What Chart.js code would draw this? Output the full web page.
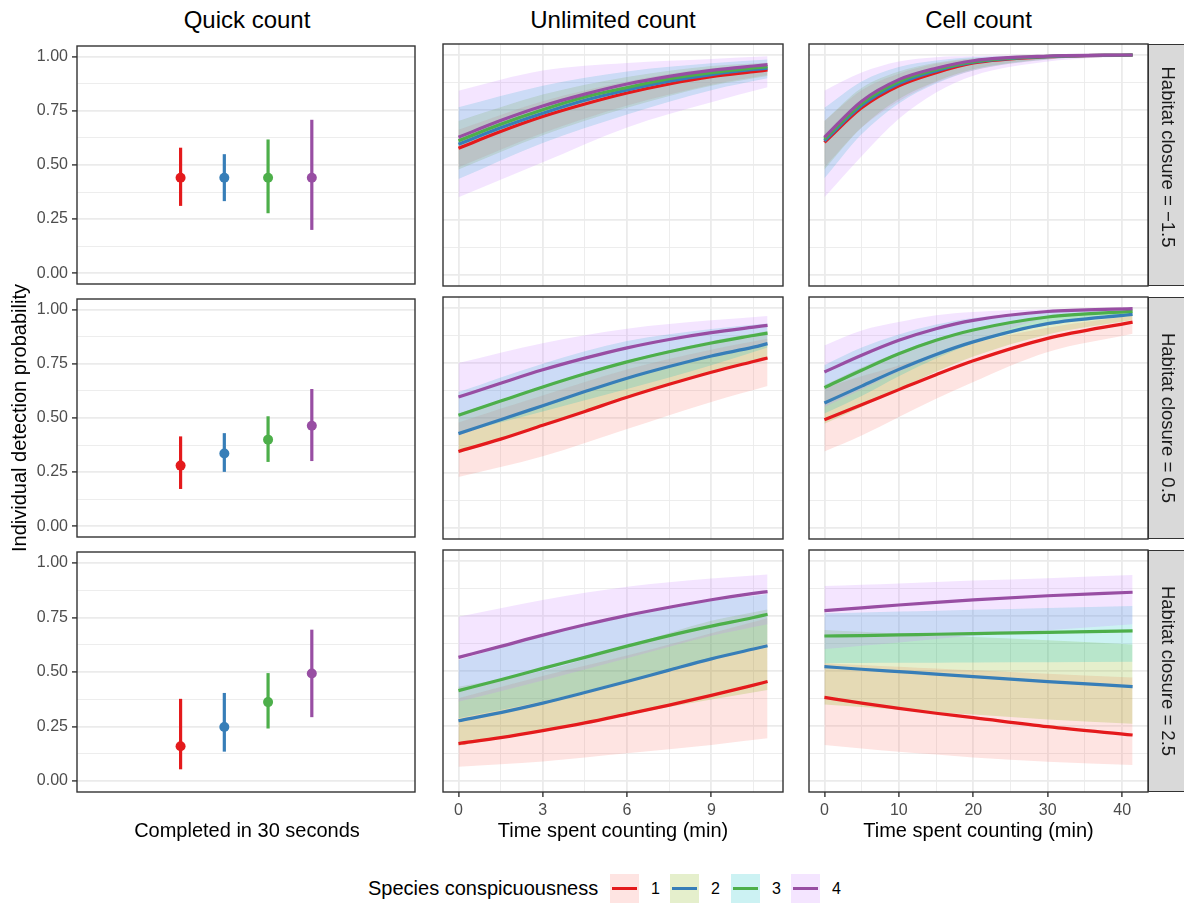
<!DOCTYPE html>
<html>
<head>
<meta charset="utf-8">
<script src="https://cdn.jsdelivr.net/npm/chart.js@4.4.0/dist/chart.umd.min.js"></script>
<style>
  body { margin: 0; width: 1184px; height: 904px; background: #fff; position: relative; overflow: hidden;
         font-family: 'Liberation Sans', Arial, Helvetica, sans-serif; color: #000; }
  canvas { position: absolute; }
  .txt { position: absolute; white-space: nowrap; }
  .strip { position: absolute; background: #D9D9D9; border: 1.4px solid #333; box-sizing: border-box; }
  .key { position: absolute; width: 29px; height: 29px; }
  .key div { position: absolute; left: 2px; top: 13px; width: 25px; height: 3px; }
</style>
</head>
<body>
<script>
// facets and series
const columnTitles = ['Quick count', 'Unlimited count', 'Cell count'];
const xTitles = ['Completed in 30 seconds', 'Time spent counting (min)', 'Time spent counting (min)'];
const closureLabels = ['Habitat closure = \u22121.5', 'Habitat closure = 0.5', 'Habitat closure = 2.5'];
const species = ['1', '2', '3', '4'];

// tick values
const yMajor = [0, 0.25, 0.5, 0.75, 1];
const yMinor = [0.125, 0.375, 0.625, 0.875];
const unlimMajor = [0, 3, 6, 9];
const unlimMinor = [1.5, 4.5, 7.5, 10.5];
const cellMajor = [0, 10, 20, 30, 40];
const cellMinor = [5, 15, 25, 35];

// quick count: dodged position per species, estimate and interval, one row per habitat closure
const quickPos = [1, 2, 3, 4];
const quickMid = [
  [0.441, 0.441, 0.441, 0.441],
  [0.280, 0.336, 0.400, 0.464],
  [0.160, 0.248, 0.362, 0.493]
];
const quickLo = [
  [0.311, 0.333, 0.277, 0.200],
  [0.172, 0.251, 0.297, 0.301],
  [0.054, 0.135, 0.241, 0.293]
];
const quickHi = [
  [0.580, 0.550, 0.618, 0.709],
  [0.415, 0.430, 0.508, 0.634],
  [0.377, 0.404, 0.495, 0.694]
];

// unlimited count lines: [row][species][time]
const unlimTime = [0, 1.5, 3, 4.5, 6, 7.5, 9, 10.5, 11];
const unlimMid = [
  [[0.576, 0.652, 0.720, 0.777, 0.827, 0.868, 0.901, 0.924, 0.932],
   [0.594, 0.669, 0.735, 0.794, 0.841, 0.881, 0.911, 0.934, 0.940],
   [0.610, 0.685, 0.751, 0.809, 0.852, 0.892, 0.920, 0.941, 0.947],
   [0.626, 0.702, 0.768, 0.822, 0.868, 0.903, 0.930, 0.950, 0.956]],
  [[0.348, 0.404, 0.467, 0.530, 0.594, 0.653, 0.708, 0.757, 0.773],
   [0.429, 0.492, 0.556, 0.620, 0.681, 0.734, 0.782, 0.822, 0.838],
   [0.512, 0.577, 0.641, 0.701, 0.755, 0.801, 0.841, 0.875, 0.886],
   [0.595, 0.658, 0.719, 0.772, 0.819, 0.857, 0.888, 0.913, 0.921]],
  [[0.170, 0.197, 0.229, 0.264, 0.304, 0.345, 0.389, 0.436, 0.452],
   [0.274, 0.311, 0.354, 0.402, 0.452, 0.504, 0.555, 0.600, 0.615],
   [0.411, 0.460, 0.512, 0.562, 0.613, 0.661, 0.704, 0.743, 0.758],
   [0.562, 0.612, 0.663, 0.710, 0.753, 0.790, 0.824, 0.853, 0.861]]
];
// unlimited count bands: [row][species][time]
const unlimBandTime = [0, 3, 6, 9, 11];
const unlimLo = [
  [[0.490, 0.645, 0.770, 0.865, 0.910], [0.480, 0.635, 0.760, 0.860, 0.905], [0.436, 0.600, 0.730, 0.840, 0.894], [0.353, 0.512, 0.671, 0.785, 0.853]],
  [[0.232, 0.326, 0.450, 0.573, 0.645], [0.340, 0.462, 0.590, 0.710, 0.770], [0.430, 0.530, 0.632, 0.740, 0.820], [0.420, 0.555, 0.677, 0.787, 0.835]],
  [[0.065, 0.089, 0.126, 0.164, 0.194], [0.160, 0.227, 0.300, 0.370, 0.414], [0.285, 0.362, 0.457, 0.552, 0.625], [0.360, 0.457, 0.558, 0.660, 0.713]]
];
const unlimHi = [
  [[0.660, 0.790, 0.880, 0.940, 0.955], [0.700, 0.820, 0.900, 0.950, 0.965], [0.762, 0.860, 0.925, 0.962, 0.979], [0.838, 0.929, 0.964, 0.982, 0.994]],
  [[0.480, 0.602, 0.720, 0.810, 0.860], [0.520, 0.642, 0.760, 0.850, 0.895], [0.618, 0.747, 0.850, 0.905, 0.930], [0.750, 0.840, 0.906, 0.944, 0.964]],
  [[0.376, 0.477, 0.570, 0.672, 0.740], [0.428, 0.500, 0.613, 0.728, 0.780], [0.550, 0.660, 0.750, 0.818, 0.850], [0.747, 0.823, 0.883, 0.921, 0.939]]
];

// cell count lines and bands: [row][species][time]
const cellTime = [0, 5, 10, 15, 20, 30, 41.4];
const cellMid = [
  [[0.603, 0.760, 0.860, 0.920, 0.964, 0.992, 1.000], [0.610, 0.770, 0.870, 0.928, 0.967, 0.993, 1.000], [0.618, 0.780, 0.879, 0.934, 0.970, 0.994, 1.000], [0.626, 0.790, 0.888, 0.940, 0.974, 0.995, 1.000]],
  [[0.492, 0.560, 0.629, 0.697, 0.760, 0.862, 0.936], [0.568, 0.645, 0.721, 0.789, 0.846, 0.929, 0.971], [0.638, 0.717, 0.792, 0.853, 0.900, 0.959, 0.985], [0.709, 0.785, 0.853, 0.906, 0.944, 0.984, 0.997]],
  [[0.380, 0.354, 0.330, 0.308, 0.288, 0.247, 0.209], [0.520, 0.508, 0.497, 0.486, 0.474, 0.452, 0.429], [0.659, 0.661, 0.664, 0.667, 0.670, 0.676, 0.682], [0.774, 0.787, 0.800, 0.812, 0.823, 0.842, 0.858]]
];
const cellLo = [
  [[0.490, 0.670, 0.790, 0.875, 0.930, 0.980, 0.998], [0.480, 0.670, 0.800, 0.880, 0.935, 0.982, 0.998], [0.440, 0.640, 0.780, 0.870, 0.930, 0.980, 0.998], [0.353, 0.540, 0.710, 0.830, 0.906, 0.970, 0.995]],
  [[0.348, 0.421, 0.505, 0.588, 0.664, 0.800, 0.883], [0.474, 0.550, 0.630, 0.710, 0.780, 0.880, 0.945], [0.520, 0.600, 0.690, 0.770, 0.840, 0.930, 0.968], [0.550, 0.630, 0.710, 0.780, 0.845, 0.955, 0.990]],
  [[0.164, 0.148, 0.133, 0.120, 0.107, 0.088, 0.073], [0.348, 0.336, 0.325, 0.313, 0.302, 0.280, 0.260], [0.535, 0.536, 0.537, 0.538, 0.539, 0.540, 0.542], [0.600, 0.615, 0.630, 0.645, 0.660, 0.685, 0.712]]
];
const cellHi = [
  [[0.700, 0.840, 0.915, 0.960, 0.982, 0.996, 1.000], [0.700, 0.850, 0.925, 0.965, 0.985, 0.997, 1.000], [0.760, 0.880, 0.945, 0.975, 0.990, 0.998, 1.000], [0.838, 0.920, 0.970, 0.990, 0.995, 0.999, 1.000]],
  [[0.638, 0.690, 0.739, 0.790, 0.840, 0.910, 0.966], [0.650, 0.730, 0.800, 0.860, 0.900, 0.960, 0.985], [0.740, 0.820, 0.880, 0.925, 0.955, 0.982, 0.993], [0.830, 0.898, 0.936, 0.967, 0.982, 0.994, 0.999]],
  [[0.535, 0.527, 0.519, 0.511, 0.503, 0.488, 0.470], [0.686, 0.678, 0.670, 0.662, 0.655, 0.640, 0.621], [0.762, 0.766, 0.770, 0.774, 0.778, 0.786, 0.795], [0.886, 0.892, 0.898, 0.905, 0.911, 0.922, 0.936]]
];

// styles
const lineColors = ['#E41A1C', '#377EB8', '#4DAF4A', '#984EA3'];
const fillColors = ['rgba(248,118,109,0.2)', 'rgba(124,174,0,0.2)', 'rgba(0,191,196,0.2)', 'rgba(199,124,255,0.2)'];

// layout
const colLeft = [77, 443, 809];
const colWidth = [340, 340, 339];
const rowTop = [44, 297, 550];
const rowHeight = 242;
const axH = 30;
const PAD = 3;

Chart.defaults.font.family = "'Liberation Sans', Arial, Helvetica, sans-serif";

const panelBorder = {
  id: 'panelBorder',
  afterDraw(chart) {
    const { ctx, chartArea: a } = chart;
    ctx.save();
    ctx.strokeStyle = '#333333';
    ctx.lineWidth = 1.4;
    ctx.strokeRect(a.left, a.top, a.right - a.left, a.bottom - a.top);
    ctx.restore();
  }
};

function pts(xs, ys) {
  return xs.map((x, i) => ({ x: x, y: ys[i] }));
}

// bands first (species 1 at the bottom), then lines with species 4 on top
function ribbonSets(lineTime, bandTime, mid, lo, hi) {
  const sets = [];
  for (let s = 0; s < 4; s++) {
    sets.push({ data: pts(bandTime, lo[s]), borderColor: 'rgba(0,0,0,0)', borderWidth: 0, pointRadius: 0,
                fill: false, cubicInterpolationMode: 'monotone', order: 24 - s });
    sets.push({ data: pts(bandTime, hi[s]), borderColor: 'rgba(0,0,0,0)', borderWidth: 0, pointRadius: 0,
                fill: '-1', backgroundColor: fillColors[s], cubicInterpolationMode: 'monotone', order: 24 - s });
  }
  for (let s = 0; s < 4; s++) {
    sets.push({ data: pts(lineTime, mid[s]), borderColor: lineColors[s], borderWidth: 3.2, pointRadius: 0,
                fill: false, cubicInterpolationMode: 'monotone', order: 4 - s });
  }
  return sets;
}

function quickSets(r) {
  const sets = [];
  for (let s = 0; s < 4; s++) {
    sets.push({ data: [{ x: quickPos[s], y: quickLo[r][s] }, { x: quickPos[s], y: quickHi[r][s] }],
                borderColor: lineColors[s], borderWidth: 3.2, pointRadius: 0, fill: false, order: 2 });
    sets.push({ data: [{ x: quickPos[s], y: quickMid[r][s] }], showLine: false, pointRadius: 5,
                pointBackgroundColor: lineColors[s], pointBorderWidth: 0, order: 1 });
  }
  return sets;
}

function gridOpts(major, showTicks) {
  return {
    color: '#EBEBEB',
    lineWidth: ctx => (ctx.tick && major.includes(ctx.tick.value)) ? 1.8 : 0.9,
    drawTicks: showTicks,
    tickLength: 5,
    tickWidth: 1.4,
    tickColor: ctx => (ctx.tick && major.includes(ctx.tick.value)) ? '#333333' : 'rgba(0,0,0,0)'
  };
}

function tickList(major, minor) {
  return major.concat(minor).sort((a, b) => a - b).map(v => ({ value: v }));
}

function panel(r, c) {
  const padL = c === 0 ? 0 : PAD;
  const axW = c === 0 ? colLeft[0] : 0;
  const bottom = r === 2 ? axH : PAD;
  const cv = document.createElement('canvas');
  cv.width = padL + axW + colWidth[c] + PAD;
  cv.height = PAD + rowHeight + bottom;
  cv.style.left = (colLeft[c] - axW - padL) + 'px';
  cv.style.top = (rowTop[r] - PAD) + 'px';
  document.body.appendChild(cv);

  const fitX = a => { a.height = r === 2 ? axH : 0; a.paddingLeft = 0; a.paddingRight = 0; };
  let datasets, xScale;
  if (c === 0) {
    datasets = quickSets(r);
    xScale = {
      type: 'linear', min: -1.368, max: 6.359, bounds: 'data',
      afterFit: fitX,
      grid: { display: false }, border: { display: false }, ticks: { display: false }
    };
  } else {
    const unl = c === 1;
    const major = unl ? unlimMajor : cellMajor;
    const minor = unl ? unlimMinor : cellMinor;
    datasets = unl ? ribbonSets(unlimTime, unlimBandTime, unlimMid[r], unlimLo[r], unlimHi[r])
                   : ribbonSets(cellTime, cellTime, cellMid[r], cellLo[r], cellHi[r]);
    xScale = {
      type: 'linear', min: unl ? -0.55 : -2.07, max: unl ? 11.55 : 43.47, bounds: 'data',
      afterBuildTicks: a => { a.ticks = tickList(major, minor); },
      afterFit: fitX,
      grid: gridOpts(major, r === 2),
      border: { display: false },
      ticks: { display: r === 2, padding: 4, color: '#4D4D4D', font: { size: 16 }, autoSkip: false, maxRotation: 0,
               callback: v => major.includes(v) ? String(v) : '' }
    };
  }

  new Chart(cv, {
    type: 'line',
    data: { datasets: datasets },
    options: {
      responsive: false, animation: false, events: [], devicePixelRatio: 1,
      layout: { padding: { left: padL, right: PAD, top: PAD, bottom: r === 2 ? 0 : PAD } },
      plugins: { legend: { display: false }, tooltip: { enabled: false }, filler: { drawTime: 'beforeDatasetsDraw' } },
      scales: {
        x: xScale,
        y: {
          type: 'linear', min: -0.05, max: 1.05, bounds: 'data',
          afterBuildTicks: a => { a.ticks = tickList(yMajor, yMinor); },
          afterFit: a => { a.width = axW; a.paddingTop = 0; a.paddingBottom = 0; },
          grid: gridOpts(yMajor, c === 0),
          border: { display: false },
          ticks: { display: c === 0, padding: 4, color: '#4D4D4D', font: { size: 16 }, autoSkip: false,
                   callback: v => yMajor.includes(v) ? v.toFixed(2) : '' }
        }
      }
    },
    plugins: [panelBorder]
  });
}

function text(str, css) {
  const d = document.createElement('div');
  d.className = 'txt';
  d.textContent = str;
  Object.assign(d.style, css);
  document.body.appendChild(d);
  return d;
}

for (let r = 0; r < 3; r++) {
  for (let c = 0; c < 3; c++) panel(r, c);
}

// column titles and x axis titles
for (let c = 0; c < 3; c++) {
  text(columnTitles[c], { left: colLeft[c] + 'px', width: colWidth[c] + 'px', top: '8px', textAlign: 'center',
                          fontSize: '24px', lineHeight: '24px' });
  text(xTitles[c], { left: colLeft[c] + 'px', width: colWidth[c] + 'px', top: '820px', textAlign: 'center',
                     fontSize: '20px', lineHeight: '20px' });
}

// row strips
const stripShift = [-8.5, 0, 0];
for (let r = 0; r < 3; r++) {
  const s = document.createElement('div');
  s.className = 'strip';
  Object.assign(s.style, { left: '1148px', top: rowTop[r] + 'px', width: '40px', height: rowHeight + 'px' });
  document.body.appendChild(s);
  const mid = rowTop[r] + rowHeight / 2 + stripShift[r];
  text(closureLabels[r], { left: (1168 - 121) + 'px', top: (mid - 18) + 'px', width: '242px', height: '36px',
                           lineHeight: '36px', textAlign: 'center', fontSize: '18.5px', color: '#1A1A1A',
                           transform: 'rotate(90deg)' });
}

// y axis title
text('Individual detection probability', { left: (19 - 376) + 'px', top: '408px', width: '752px', height: '20px',
                                           lineHeight: '20px', textAlign: 'center', fontSize: '20px',
                                           transform: 'rotate(-90deg)' });

// legend
text('Species conspicuousness', { left: '368px', top: '878px', fontSize: '20px', lineHeight: '20px' });
const keyLeft = [610, 670, 731, 791];
species.forEach((sp, s) => {
  const k = document.createElement('div');
  k.className = 'key';
  k.style.left = keyLeft[s] + 'px';
  k.style.top = '874px';
  k.style.background = fillColors[s];
  const bar = document.createElement('div');
  bar.style.background = lineColors[s];
  k.appendChild(bar);
  document.body.appendChild(k);
  text(sp, { left: (keyLeft[s] + 41) + 'px', top: '881px', fontSize: '16px', lineHeight: '16px' });
});
</script>
</body>
</html>
